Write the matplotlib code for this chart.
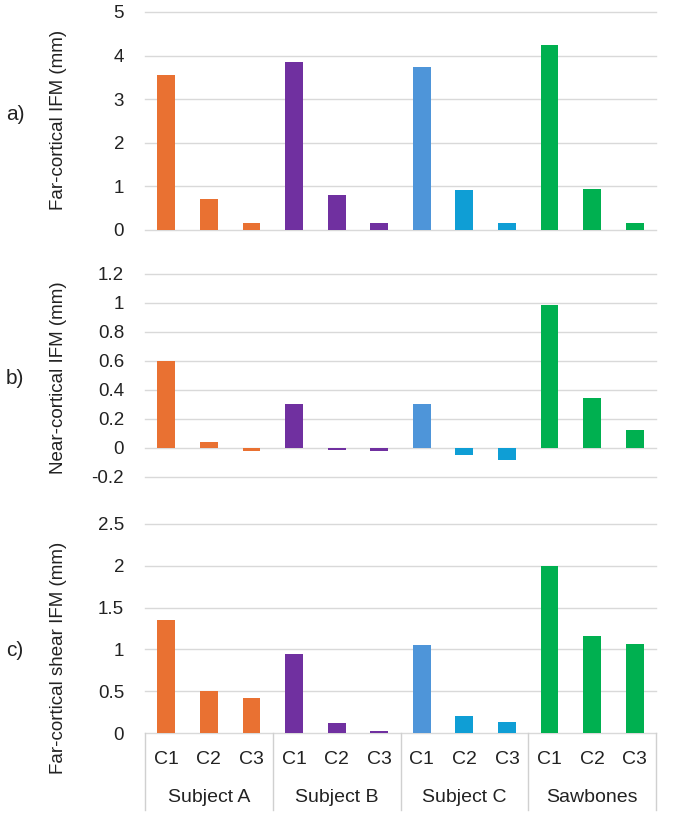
import matplotlib
matplotlib.use('Agg')
import matplotlib.pyplot as plt

plt.rcParams['font.family'] = ['Liberation Sans', 'DejaVu Sans']

# categories
groups = ['Subject A', 'Subject B', 'Subject C', 'Sawbones']
conditions = ['C1', 'C2', 'C3']

# values (mm)
far_cortical = [3.55, 0.71, 0.17, 3.85, 0.81, 0.17, 3.73, 0.92, 0.17, 4.25, 0.95, 0.17]
near_cortical = [0.60, 0.04, -0.025, 0.30, -0.018, -0.025, 0.30, -0.05, -0.085, 0.985, 0.345, 0.122]
far_shear = [1.35, 0.50, 0.42, 0.95, 0.12, 0.02, 1.05, 0.20, 0.13, 2.00, 1.16, 1.07]

bar_colors = ['#E97132'] * 3 + ['#7030A0'] * 3 + ['#4E95D9', '#0F9ED5', '#0F9ED5'] + ['#00B050'] * 3

ticks_a = [0, 1, 2, 3, 4, 5]
ticks_b = [-0.2, 0, 0.2, 0.4, 0.6, 0.8, 1.0, 1.2]
ticks_c = [0, 0.5, 1, 1.5, 2, 2.5]

W, H = 673, 819
fig = plt.figure(figsize=(W / 100, H / 100), dpi=100)

L = 145 / W
AW = (656 - 145) / W


def box(top, bottom):
    return [L, 1 - bottom / H, AW, (bottom - top) / H]


panels = [
    (box(12, 230), far_cortical, ticks_a, 'Far-cortical IFM (mm)', 'a)', 120, 115),
    (box(274, 476.7), near_cortical, ticks_b, 'Near-cortical IFM (mm)', 'b)', 378, 379),
    (box(524, 733), far_shear, ticks_c, 'Far-cortical shear IFM (mm)', 'c)', 658, 650),
]

x = list(range(len(far_cortical)))
axes = []
for rect, vals, ticks, ylab, tag, ylab_y, tag_y in panels:
    ax = fig.add_axes(rect)
    ax.bar(x, vals, width=0.42, color=bar_colors, zorder=3)
    ax.set_xlim(-0.5, len(x) - 0.5)
    ax.set_ylim(ticks[0], ticks[-1])
    ax.set_yticks(ticks)
    ax.set_yticklabels([f'{t:g}' for t in ticks], fontsize=13.5, color='#222222')
    ax.tick_params(axis='y', length=0, pad=15)
    ax.set_xticks([])
    # gridlines (drawn unclipped so the limits show too)
    for t in ticks:
        ax.axhline(t, color='#D9D9D9', lw=1, zorder=0, clip_on=False)
    for s in ax.spines.values():
        s.set_visible(False)
    fig.text(59 / W, 1 - ylab_y / H, ylab, rotation=90, ha='center', va='center',
             fontsize=13.5, color='#222222')
    fig.text(15 / W, 1 - tag_y / H, tag, ha='center', va='center', fontsize=15, color='#222222')
    axes.append(ax)

# two-level category axis under the last panel
ax = axes[-1]
tr = ax.get_xaxis_transform()
ph = 733 - 524
for i, xi in enumerate(x):
    ax.text(xi, -(759 - 733) / ph, conditions[i % 3], transform=tr, ha='center', va='center',
            fontsize=14, color='#222222')
for g, name in enumerate(groups):
    ax.text(g * 3 + 1, -(797 - 733) / ph, name, transform=tr, ha='center', va='center',
            fontsize=14, color='#222222')
for g in range(len(groups) + 1):
    xs = g * 3 - 0.5
    ax.plot([xs, xs], [0, -(810 - 733) / ph], transform=tr, color='#D0D0D0', lw=1, clip_on=False)

fig.savefig('out.png', dpi=100)
